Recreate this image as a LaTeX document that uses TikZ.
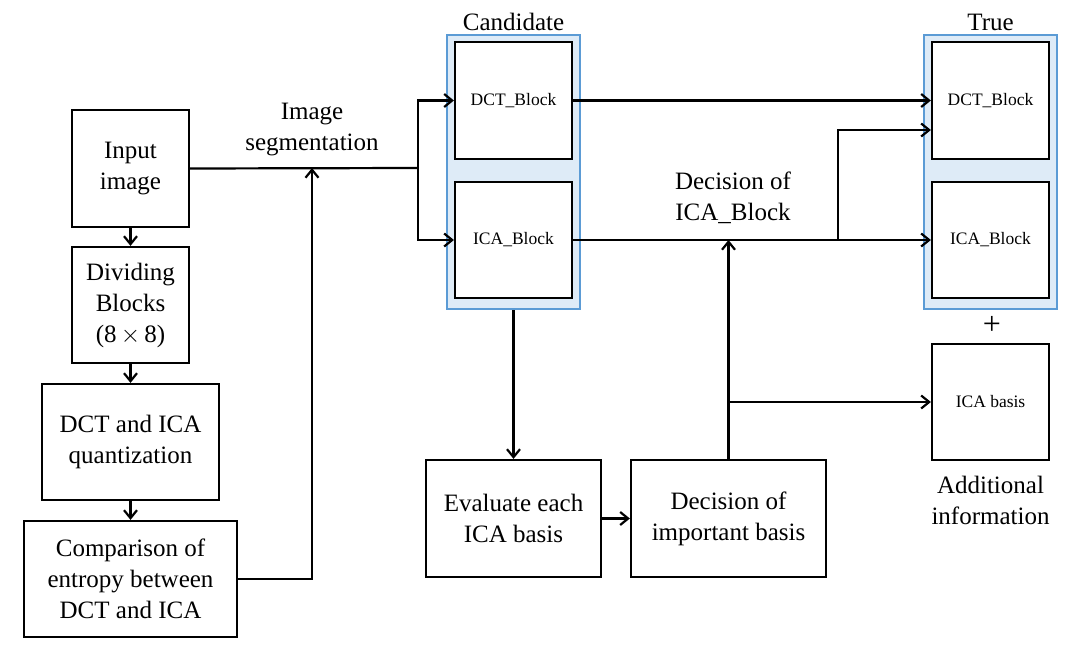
\documentclass[tikz,border=0pt]{standalone}
\usepackage{fontspec}
\setmainfont{LiberationSerif}[Extension=.ttf, UprightFont=*-Regular, BoldFont=*-Bold, ItalicFont=*-Italic]
\usetikzlibrary{arrows.meta}
\definecolor{contb}{HTML}{5B9BD5}
\definecolor{contf}{HTML}{DEEBF7}
\begin{document}
\begin{tikzpicture}[x=1pt,y=-1pt,
 box/.style={draw, line width=2.2pt, fill=white, inner sep=0pt, align=center, font=\fontsize{25}{31}\selectfont},
 sbox/.style={box, minimum width=117pt, minimum height=117pt, font=\fontsize{17.5}{21}\selectfont},
 cont/.style={draw=contb, fill=contf, line width=2.2pt, inner sep=0pt},
 arr/.style={line width=2.2pt, -{Straight Barb[length=8pt,width=13pt]}},
 ln/.style={line width=2.2pt},
 lbl/.style={align=center, font=\fontsize{25}{31}\selectfont, inner sep=0pt}]
\useasboundingbox (0,0) rectangle (1075,655);

% containers
\node[cont, minimum width=133pt, minimum height=274pt] (cand) at (513.5,172) {};
\node[cont, minimum width=133pt, minimum height=274pt] (true) at (990.5,172) {};
\node[lbl] (candl) at (513.5,22) {Candidate};
\node[lbl] (truel) at (990.5,22) {True};

\node[sbox] (cdct) at (513.5,100.5) {DCT\_Block};
\node[sbox, minimum height=116pt] (cica) at (513.5,240) {ICA\_Block};
\node[sbox] (tdct) at (990.5,100.5) {DCT\_Block};
\node[sbox, minimum height=116pt] (tica) at (990.5,240) {ICA\_Block};

% left column
\node[box, minimum width=117pt, minimum height=117pt] (inp) at (130.5,168.5) {Input\\image};
\node[box, minimum width=117pt, minimum height=116pt] (div) at (130.5,305) {Dividing\\Blocks\\(8\,$\times$\,8)};
\node[box, minimum width=177pt, minimum height=116pt] (quant) at (130.5,442) {DCT and ICA\\quantization};
\node[box, minimum width=213pt, minimum height=116pt] (cmp) at (130.5,579) {Comparison of\\entropy between\\DCT and ICA};

% bottom
\node[box, minimum width=175pt, minimum height=117pt] (eval) at (513.5,518.5) {Evaluate each\\ICA basis};
\node[box, minimum width=195pt, minimum height=117pt] (dib) at (728.5,518.5) {Decision of\\important basis};
\node[sbox, minimum height=116pt] (icab) at (990.5,402) {ICA basis};

% labels
\node[lbl] (segl) at (312,130) {Image\\segmentation};
\node[lbl] (decl) at (733,198) {Decision of\\ICA\_Block};
\node[lbl, font=\fontsize{32}{36}\selectfont] (plus) at (992,325) {+};
\node[lbl] (addl) at (990.5,500) {Additional\\information};

% coordinates
\coordinate (split) at (418,168);
\coordinate (seg) at (312,168);
\coordinate (j1) at (838,240);

% connectors
\draw[arr] (inp) -- (div);
\draw[arr] (div) -- (quant);
\draw[arr] (quant) -- (cmp);
\draw[ln] (inp.east) -- (split);
\draw[arr] (split) |- (cdct.west);
\draw[arr] (split) |- (cica.west);
\draw[arr] (cmp.east) -| (seg);
\draw[arr] (cdct.east) -- (tdct.west);
\draw[arr] (cica.east) -- (tica.west);
\draw[arr] (j1) |- (tdct.west |- 0,130);
\draw[arr] (cand.south) -- (eval.north);
\draw[arr] (eval.east) -- (dib.west);
\draw[arr] (dib.north) -- (dib.north |- cica.east);
\draw[arr] (dib.north |- icab.west) -- (icab.west);
\end{tikzpicture}
\end{document}
